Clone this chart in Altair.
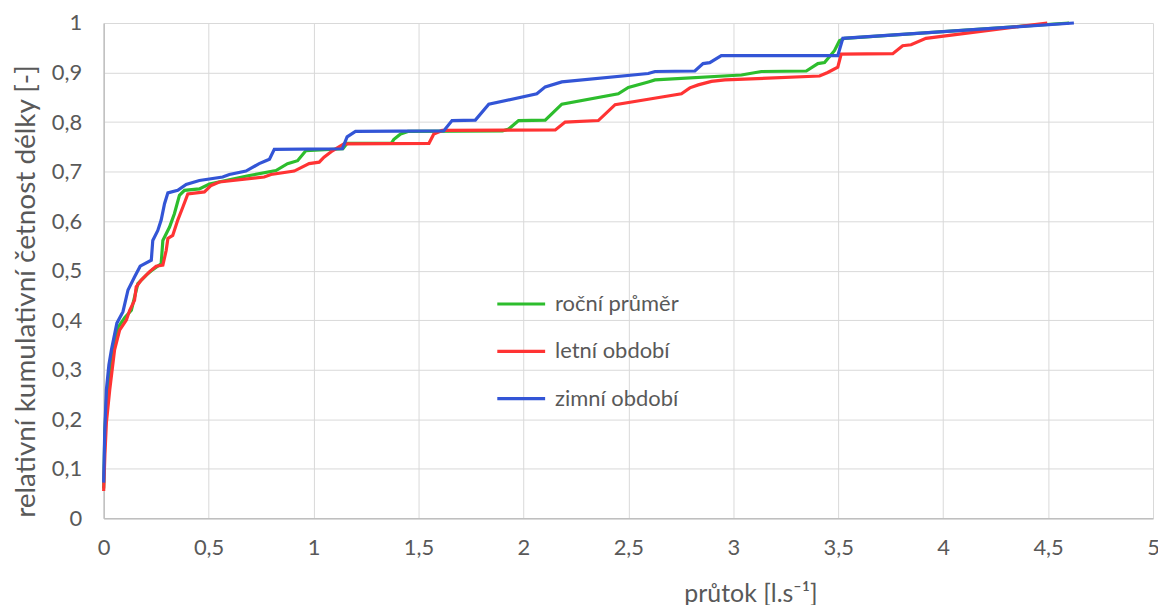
import altair as alt
import pandas as pd

series_names = ["roční průměr", "letní období", "zimní období"]
series_colors = ["#2dbd2d", "#ff3333", "#3355d6"]

green_x = [0.0, 0.006, 0.015, 0.04, 0.068, 0.1, 0.132, 0.163, 0.203, 0.234, 0.274, 0.282, 0.314, 0.337,
           0.361, 0.385, 0.456, 0.504, 0.694, 0.821, 0.876, 0.924, 0.963, 1.14, 1.16, 1.37, 1.383, 1.415,
           1.45, 1.9, 1.93, 1.977, 2.104, 2.183, 2.452, 2.5, 2.595, 2.627, 3.039, 3.134, 3.348, 3.403,
           3.435, 3.482, 3.506, 3.53, 4.6]
green_y = [0.06, 0.18, 0.25, 0.33, 0.385, 0.405, 0.42, 0.474, 0.491, 0.502, 0.514, 0.561, 0.588, 0.615,
           0.652, 0.662, 0.665, 0.675, 0.692, 0.702, 0.716, 0.722, 0.742, 0.746, 0.757, 0.757, 0.765, 0.776,
           0.781, 0.782, 0.786, 0.803, 0.804, 0.836, 0.857, 0.87, 0.881, 0.885, 0.895, 0.902, 0.903, 0.918,
           0.92, 0.944, 0.964, 0.969, 1.0]

red_x = [0.0, 0.006, 0.013, 0.029, 0.052, 0.076, 0.108, 0.124, 0.147, 0.155, 0.179, 0.219, 0.25, 0.282,
         0.298, 0.306, 0.329, 0.353, 0.377, 0.401, 0.48, 0.512, 0.551, 0.765, 0.797, 0.908, 0.979, 1.027,
         1.05, 1.09, 1.145, 1.55, 1.573, 1.613, 2.152, 2.199, 2.357, 2.437, 2.595, 2.753, 2.793, 2.833,
         2.896, 2.96, 3.411, 3.45, 3.498, 3.514, 3.76, 3.807, 3.847, 3.918, 4.496]
red_y = [0.055, 0.13, 0.193, 0.26, 0.34, 0.38, 0.40, 0.42, 0.44, 0.467, 0.481, 0.498, 0.509, 0.511,
         0.541, 0.565, 0.571, 0.602, 0.628, 0.655, 0.659, 0.672, 0.679, 0.689, 0.694, 0.701, 0.716, 0.719,
         0.729, 0.742, 0.756, 0.757, 0.776, 0.783, 0.784, 0.80, 0.803, 0.835, 0.846, 0.857, 0.869, 0.875,
         0.882, 0.885, 0.893, 0.90, 0.911, 0.937, 0.938, 0.954, 0.956, 0.969, 1.0]

blue_x = [0.0, 0.005, 0.013, 0.025, 0.037, 0.063, 0.092, 0.116, 0.147, 0.174, 0.227, 0.234, 0.258, 0.274,
          0.29, 0.306, 0.353, 0.393, 0.456, 0.567, 0.599, 0.678, 0.741, 0.773, 0.79, 0.813, 1.137, 1.16,
          1.20, 1.62, 1.66, 1.771, 1.835, 2.064, 2.104, 2.183, 2.595, 2.627, 2.817, 2.856, 2.888, 2.943,
          3.498, 3.522, 4.623]
blue_y = [0.072, 0.173, 0.26, 0.31, 0.34, 0.394, 0.417, 0.461, 0.487, 0.509, 0.521, 0.561, 0.581, 0.602,
          0.635, 0.657, 0.662, 0.674, 0.682, 0.689, 0.694, 0.701, 0.716, 0.722, 0.725, 0.745, 0.746, 0.77,
          0.781, 0.782, 0.803, 0.804, 0.836, 0.857, 0.871, 0.881, 0.898, 0.902, 0.903, 0.918, 0.92, 0.934,
          0.934, 0.969, 1.0]

x_ticks = [0, 0.5, 1, 1.5, 2, 2.5, 3, 3.5, 4, 4.5, 5]
y_ticks = [0, 0.1, 0.2, 0.3, 0.4, 0.5, 0.6, 0.7, 0.8, 0.9, 1.0]

rows = []
for name, xs, ys in zip(series_names, [green_x, red_x, blue_x], [green_y, red_y, blue_y]):
    for i, (a, b) in enumerate(zip(xs, ys)):
        rows.append({"serie": name, "x": a, "y": b, "i": i})
df = pd.DataFrame(rows)

FONT = "Lato"
GREY = "#595959"
LABEL_EXPR = "replace(format(datum.value, '~g'), '.', ',')"

chart = alt.Chart(df).mark_line(strokeWidth=3.2).encode(
    x=alt.X("x:Q", scale=alt.Scale(domain=[0, 5], nice=False),
            axis=alt.Axis(values=x_ticks, title="průtok [l.s⁻¹]",
                          labelExpr=LABEL_EXPR, labelFlush=False, labelOverlap=False,
                          grid=True, gridColor="#d9d9d9", gridWidth=1,
                          domainColor="#bfbfbf", domainWidth=1.5, ticks=False,
                          labelPadding=19, labelFontSize=22, labelColor=GREY, labelFont=FONT,
                          titleFont=FONT, titleFontSize=25, titleColor=GREY, titleFontWeight="normal",
                          titleX=649, titleY=84, titleAlign="center", titleBaseline="alphabetic")),
    y=alt.Y("y:Q", scale=alt.Scale(domain=[0, 1], nice=False),
            axis=alt.Axis(values=y_ticks, title="relativní kumulativní četnost délky [-]",
                          labelExpr=LABEL_EXPR, labelFlush=False, labelOverlap=False,
                          grid=True, gridColor="#d9d9d9", gridWidth=1,
                          domainColor="#bfbfbf", domainWidth=1.5, ticks=False,
                          labelPadding=22, labelFontSize=22, labelColor=GREY, labelFont=FONT,
                          titleFont=FONT, titleFontSize=28, titleColor=GREY, titleFontWeight="normal",
                          titleAngle=270, titleX=-77, titleY=269, titleAlign="center",
                          titleBaseline="middle")),
    color=alt.Color("serie:N", scale=alt.Scale(domain=series_names, range=series_colors),
                    sort=series_names,
                    legend=alt.Legend(title=None, orient="none", legendX=393, legendY=256,
                                      symbolType="stroke", symbolSize=2304, symbolStrokeWidth=3.2,
                                      labelFont=FONT, labelFontSize=22, labelColor=GREY,
                                      labelOffset=8, rowPadding=10.5)),
    order=alt.Order("i:Q"),
).properties(
    width=1053, height=497,
    autosize=alt.AutoSizeParams(type="none"),
    padding={"left": 96, "top": 14, "right": 5, "bottom": 86},
).configure_view(stroke=None)

chart.save("out.html", embed_options={"renderer": "svg", "actions": False})
